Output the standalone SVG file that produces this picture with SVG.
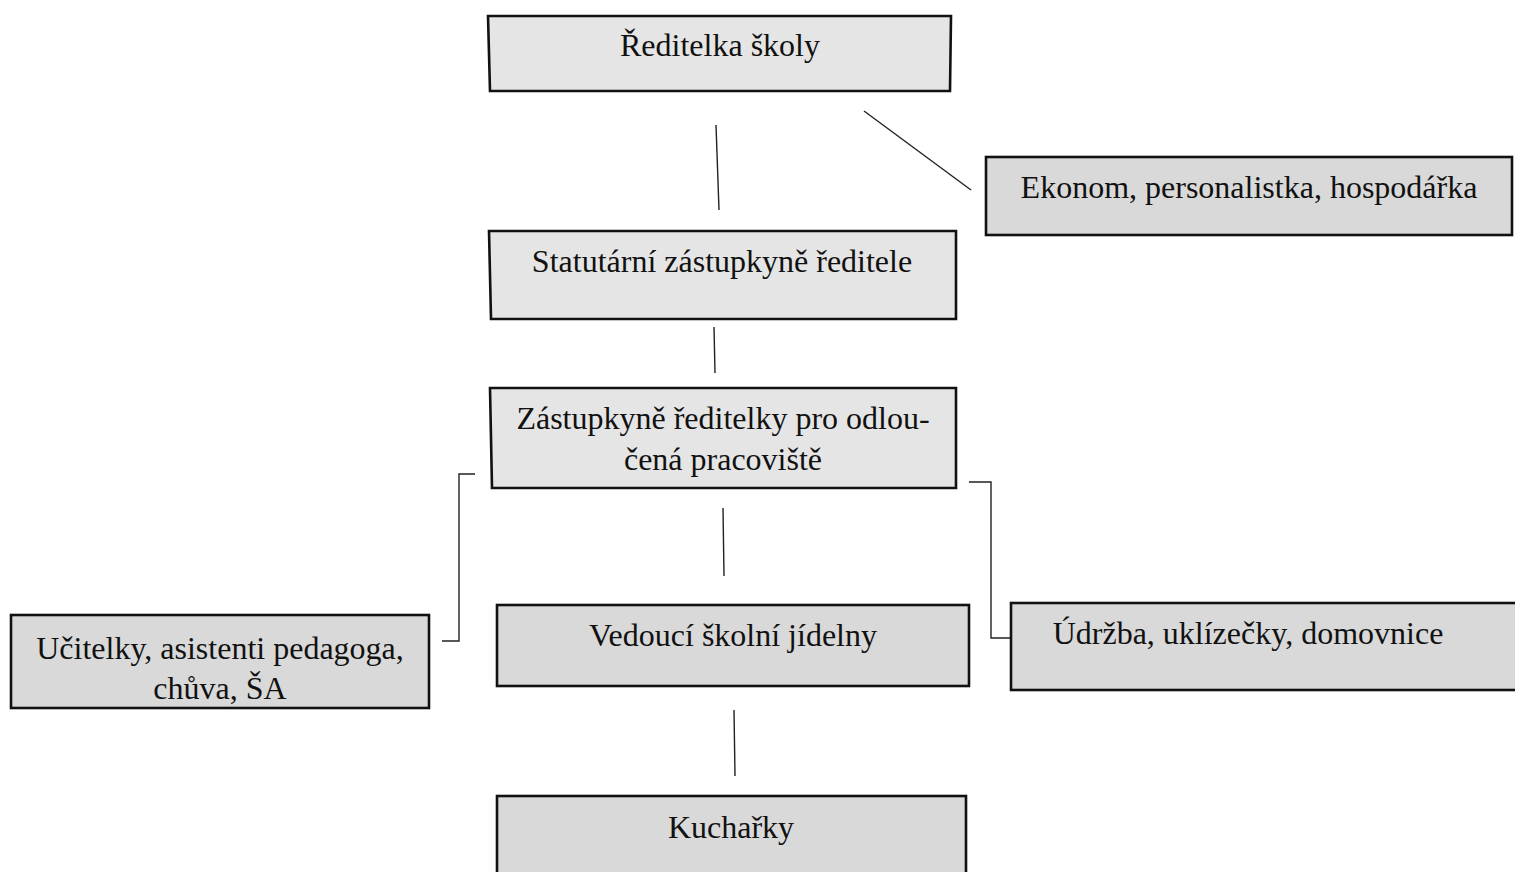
<svg xmlns="http://www.w3.org/2000/svg" width="1515" height="872" viewBox="0 0 1515 872">
<style>
.box{stroke:#111;stroke-width:2.6;}
.l{fill:#e5e5e5;}
.d{fill:#d9d9d9;}
.t{font-family:"Liberation Serif","Times New Roman",serif;font-size:32px;fill:#111;text-anchor:middle;}
.c{stroke:#222;stroke-width:1.4;fill:none;}
</style>
<rect width="1515" height="872" fill="#fff"/>
<g id="connectors">
<line class="c" x1="716" y1="125" x2="719" y2="210"/>
<line class="c" x1="864" y1="111" x2="971" y2="190"/>
<line class="c" x1="714" y1="327" x2="715" y2="373"/>
<polyline class="c" points="475,474 459,474 459,641 442,641"/>
<polyline class="c" points="969,482 991,482 991,638 1012,638"/>
<line class="c" x1="723" y1="508" x2="724" y2="576"/>
<line class="c" x1="734" y1="710" x2="735" y2="776"/>
</g>
<g id="n1"><polygon class="box l" points="488,16 951,16 950,91 490,91"/><text class="t" x="720" y="56">Ředitelka školy</text></g>
<g id="n2"><rect class="box d" x="986" y="157" width="526" height="78"/><text class="t" x="1249" y="198">Ekonom, personalistka, hospodářka</text></g>
<g id="n3"><polygon class="box l" points="489,231 956,231 956,319 491,319"/><text class="t" x="722" y="272">Statutární zástupkyně ředitele</text></g>
<g id="n4"><polygon class="box l" points="490,388 956,388 956,488 492,488"/><text class="t" x="723" y="429">Zástupkyně ředitelky pro odlou-</text><text class="t" x="723" y="470">čená pracoviště</text></g>
<g id="n5"><rect class="box d" x="11" y="615" width="418" height="93"/><text class="t" x="220" y="659">Učitelky, asistenti pedagoga,</text><text class="t" x="220" y="699">chůva, ŠA</text></g>
<g id="n6"><rect class="box d" x="497" y="605" width="472" height="81"/><text class="t" x="733" y="646">Vedoucí školní jídelny</text></g>
<g id="n7"><rect class="box d" x="1011" y="603" width="510" height="87"/><text class="t" x="1248" y="644">Údržba, uklízečky, domovnice</text></g>
<g id="n8"><rect class="box d" x="497" y="796" width="469" height="90"/><text class="t" x="731" y="838">Kuchařky</text></g>
</svg>
